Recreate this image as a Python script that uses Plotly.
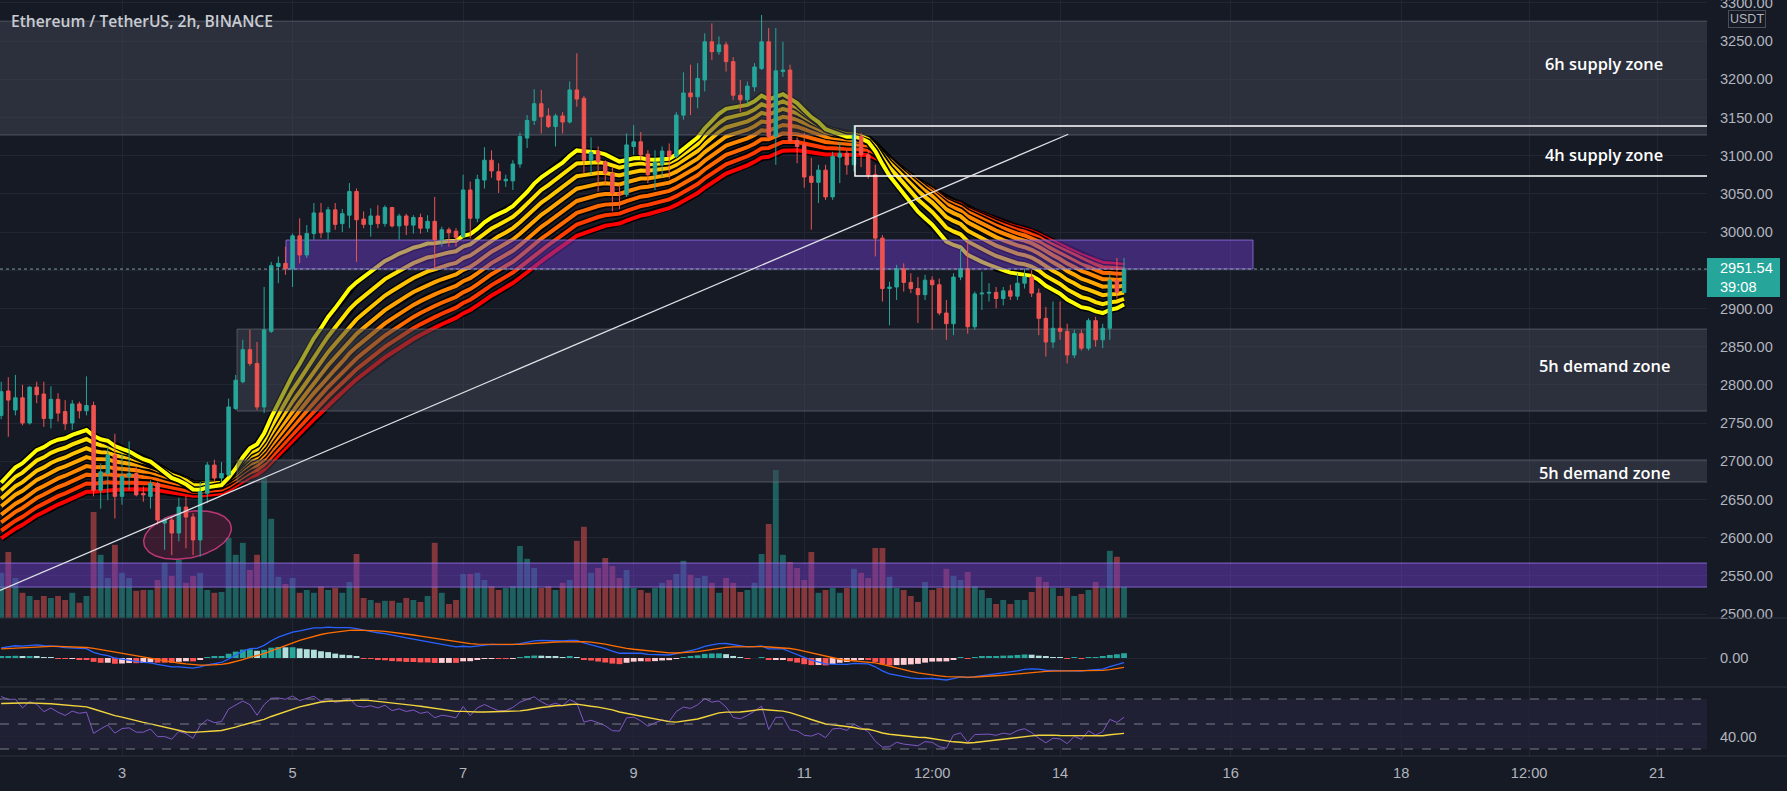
import numpy as np
import plotly.graph_objects as go

# ---------------- data ----------------
start_day = 1 + 14 / 24          # first visible 2h bar: Feb 1, 14:00
bar_step_days = 2 / 24           # 2h candles

opens = [2760,2792,2767,2783,2750,2797,2788,2756,2781,2765,
         2750,2775,2766,2773,2662,2684,2708,2654,2680,2684,
         2658,2654,2671,2619,2623,2606,2640,2627,2597,2658,
         2695,2678,2682,2769,2804,2846,2828,2771,2870,2955,
         2959,2952,2995,2970,2998,3025,3000,3029,3011,3022,
         3053,3017,3010,3021,3011,3032,3008,3021,3009,3019,
         3005,3014,2990,3003,3001,2994,3055,3018,3068,3094,
         3079,3067,3067,3089,3123,3146,3168,3152,3138,3152,
         3144,3186,3175,3094,3106,3092,3077,3051,3049,3112,
         3118,3102,3075,3088,3106,3099,3153,3182,3177,3199,
         3249,3236,3245,3223,3179,3173,3190,3214,3249,3125,
         3210,3212,3120,3114,3073,3065,3081,3046,3098,3103,
         3088,3125,3101,3075,2992,2926,2928,2952,2934,2926,
         2918,2937,2931,2894,2880,2941,2952,2876,2919,2920,
         2921,2913,2923,2916,2933,2941,2920,2887,2856,2874,
         2870,2839,2867,2848,2884,2859,2874,2937,2921]
highs = [2804,2810,2813,2800,2798,2804,2804,2798,2789,2780,
         2780,2778,2811,2778,2697,2719,2736,2710,2726,2693,
         2667,2675,2673,2626,2627,2652,2654,2632,2673,2699,
         2702,2699,2782,2813,2859,2872,2856,2928,2961,2968,
         2981,2998,3018,3009,3038,3038,3033,3038,3030,3064,
         3057,3027,3031,3035,3035,3033,3024,3024,3022,3024,
         3022,3046,3007,3006,3005,3075,3066,3075,3111,3107,
         3090,3075,3094,3130,3153,3187,3186,3162,3155,3157,
         3197,3234,3178,3124,3112,3094,3085,3062,3129,3140,
         3131,3107,3107,3112,3116,3157,3209,3219,3221,3260,
         3273,3256,3249,3229,3199,3197,3221,3284,3267,3267,
         3249,3219,3124,3130,3097,3088,3088,3105,3118,3107,
         3140,3130,3107,3088,2996,2935,2957,2959,2946,2941,
         2944,2942,2939,2911,2946,2979,2987,2922,2948,2933,
         2928,2928,2931,2946,2952,2950,2926,2902,2909,2909,
         2880,2872,2872,2887,2889,2880,2946,2966,2966]
lows = [2755,2732,2760,2747,2748,2776,2745,2743,2752,2741,
        2741,2756,2760,2654,2638,2649,2625,2643,2662,2654,
        2647,2638,2617,2584,2577,2595,2586,2577,2575,2645,
        2673,2673,2680,2767,2802,2825,2767,2763,2868,2933,
        2944,2928,2959,2966,2990,2992,2990,3003,3000,3005,
        2961,3005,2994,3005,3007,3006,2990,2996,2998,2998,
        3000,2952,2981,2981,2981,2992,2992,3013,3057,3071,
        3051,3059,3055,3084,3110,3140,3129,3136,3112,3129,
        3142,3164,3077,3075,3053,3062,3027,3030,3046,3101,
        3094,3064,3055,3072,3070,3097,3147,3153,3162,3184,
        3225,3232,3210,3173,3157,3168,3184,3212,3123,3088,
        3203,3116,3090,3058,3003,3038,3042,3042,3064,3075,
        3079,3085,3070,2968,2909,2878,2911,2922,2920,2881,
        2911,2872,2891,2859,2865,2937,2867,2872,2898,2909,
        2900,2904,2911,2911,2926,2915,2865,2837,2848,2859,
        2828,2835,2845,2845,2850,2848,2859,2913,2931]
closes = [2791,2780,2783,2750,2797,2787,2756,2781,2763,2749,
          2775,2766,2773,2662,2686,2708,2654,2680,2684,2656,
          2656,2671,2623,2623,2606,2640,2627,2597,2660,2695,
          2678,2684,2771,2806,2846,2828,2771,2872,2956,2959,
          2952,2995,2970,2998,3025,2999,3029,3010,3024,3053,
          3016,3010,3021,3011,3032,3008,3021,3009,3019,3005,
          3014,2990,3003,2999,2993,3055,3018,3069,3094,3080,
          3068,3069,3089,3125,3146,3168,3151,3138,3152,3144,
          3186,3174,3094,3104,3092,3077,3051,3049,3114,3118,
          3101,3075,3091,3106,3099,3153,3182,3177,3201,3249,
          3236,3245,3223,3179,3173,3191,3216,3249,3125,3211,
          3212,3120,3112,3072,3065,3081,3046,3099,3103,3088,
          3127,3101,3075,2992,2926,2928,2952,2934,2926,2918,
          2937,2931,2894,2880,2941,2952,2876,2919,2920,2921,
          2913,2923,2916,2933,2941,2920,2887,2856,2874,2870,
          2839,2867,2848,2884,2859,2874,2937,2921,2951.54]
volumes_k = [11.3,16.5,10,6.3,5.5,4.5,5.5,5,5.5,4.5,
             6.3,3.8,5.5,26.5,15.8,10,18.3,11.3,10,6.8,
             7,7,9.5,13.8,10.5,14.5,8.8,10.5,11.3,7,
             6.3,6.5,20,15.8,18.8,12,15.8,35,24.8,10.3,
             8.5,10,6.3,7,6.3,8,7,7.5,6.3,9,
             16,5,4.5,3.8,4.3,4.3,3.8,5,4.5,4,
             5.5,18.8,6.3,3.5,4.5,11,11,11.3,9.5,8,
             7,7.5,8,18,14.8,12.5,7.5,8,7,8.8,
             9.5,19.3,22.8,11.3,12.5,15,13,10,12,7.5,
             7,6.3,7.5,8.8,9.5,11,14.3,10.8,10,10.5,
             8.8,6.3,10,8.8,6.5,7,8.8,16,23.5,37,
             15.8,14,12.5,9.5,16.5,6.3,7,7.5,6.3,7.5,
             12.3,11.3,10,17.5,17.5,10.3,7.5,7,5.5,4,
             9,7,7.5,12.3,10.5,9.5,11.5,8,7,5,
             3.5,4.5,3.5,4.5,4.5,6.5,10.3,9,7.5,5.5,
             7.5,5.5,6,7,9,7.5,16.8,15.3,7.8]

last_price = 2951.54
countdown = "39:08"

# EMA ribbon (lengths, values at the first visible bar, colours)
ribbon_lengths = [20, 25, 30, 35, 40, 45, 50, 55]
ribbon_seed = [2672, 2662, 2651, 2641, 2630, 2620, 2609, 2599]
ribbon_colors = ["#ffff00", "#ffe100", "#ffc400", "#ffa600",
                 "#ff8800", "#ff6a00", "#ff3c00", "#ff0000"]

# MACD(12,26,9) and RSI(14) states at the first visible bar
macd_seed = {"ema_fast": 2712, "ema_slow": 2684, "signal": 25}
rsi_seed = {"avg_gain": 18.0, "avg_loss": 7.0, "ma_prior": 66.0}

price_ticks = list(range(2500, 3301, 50))
x_tickvals = [3, 5, 7, 9, 11, 12.5, 14, 16, 18, 19.5, 21]
x_ticktext = ["3", "5", "7", "9", "11", "12:00", "14", "16", "18", "12:00", "21"]

zones = [  # x in days of Feb, y in USDT
    dict(x0=1.0, x1=23, y0=3127, y1=3276, kind="gray"),      # 6h supply
    dict(x0=4.349, x1=23, y0=2765.7, y1=2873, kind="gray"),  # 5h demand
    dict(x0=4.349, x1=23, y0=2672.8, y1=2701.6, kind="gray"),# 5h demand
    dict(x0=4.923, x1=16.262, y0=2951.6, y1=2989.5, kind="purple"),
    dict(x0=1.0, x1=23, y0=2535.3, y1=2566.7, kind="purple"),
]
zone_labels = [("6h supply zone", 3221), ("4h supply zone", 3102),
               ("5h demand zone", 2825), ("5h demand zone", 2685)]
zone_label_x = 20.38
box_4h = dict(x0=11.595, x1=23, y0=3073.3, y1=3138.8)
trendline = dict(x0=1.5694, y0=2531, x1=14.096, y1=3128)
ellipse = dict(cx=3.768, cy=2603.4, a_px=44.5, b_px=23, angle_deg=-11.7)

# ---------------- indicators ----------------
n = len(closes)
assert all(len(a) == n for a in (opens, highs, lows, volumes_k))
x = [start_day + i * bar_step_days for i in range(n)]
c = np.array(closes, dtype=float)


def ema_series(values, length, seed):
    a = 2.0 / (length + 1)
    out = [seed]
    for v in values[1:]:
        out.append(a * v + (1 - a) * out[-1])
    return np.array(out)


ribbons = [ema_series(c, L, s) for L, s in zip(ribbon_lengths, ribbon_seed)]

ema_f = ema_series(c, 12, macd_seed["ema_fast"])
ema_s = ema_series(c, 26, macd_seed["ema_slow"])
macd = ema_f - ema_s
sig = [macd_seed["signal"]]
for v in macd[1:]:
    sig.append(0.2 * v + 0.8 * sig[-1])
sig = np.array(sig)
hist = macd - sig
hist_colors = []
for i, h in enumerate(hist):
    prev = hist[i - 1] if i > 0 else h
    if h >= 0:
        hist_colors.append("#26a69a" if h >= prev else "#b2dfdb")
    else:
        hist_colors.append("#ffcdd2" if h >= prev else "#ff5252")

ag, al = rsi_seed["avg_gain"], rsi_seed["avg_loss"]
rsi = [100 - 100 / (1 + ag / al)]
for i in range(1, n):
    ch = c[i] - c[i - 1]
    ag = (ag * 13 + max(ch, 0)) / 14
    al = (al * 13 + max(-ch, 0)) / 14
    rsi.append(100 - 100 / (1 + ag / al))
ext = [rsi_seed["ma_prior"]] * 13 + rsi
rsi_ma = [float(np.mean(ext[i:i + 14])) for i in range(n)]

# ---------------- styling ----------------
BG = "#161a25"
GRID = "#222633"
TEAL = "#26a69a"
RED = "#ef5350"
AXIS_FONT = dict(family="Liberation Sans", size=14.6, color="#b2b5be")
W, H = 1787, 791
MR, MB = 80, 35
plot_w, plot_h = W - MR, H - MB
price_dom = [1 - 618 / plot_h, 1]
macd_dom = [1 - 687 / plot_h, 1 - 618 / plot_h]
rsi_dom = [0, 1 - 687 / plot_h]
x_range = [1.5694, 21.586]
price_range = [2494.8, 3303.7]

fig = go.Figure()

# volume (bottom layer)
vol_colors = ["rgba(38,166,154,0.5)" if cl >= op else "rgba(239,83,80,0.5)"
              for op, cl in zip(opens, closes)]
fig.add_trace(go.Bar(x=x, y=volumes_k, yaxis="y2", marker_color=vol_colors,
                     marker_line_width=0, width=bar_step_days * 0.82,
                     hoverinfo="skip"))

# ribbon (slowest first)
for k in range(len(ribbons) - 1, -1, -1):
    fig.add_trace(go.Scatter(x=x, y=ribbons[k], yaxis="y3", mode="lines",
                             line=dict(color="#000000", width=7), hoverinfo="skip"))
    fig.add_trace(go.Scatter(x=x, y=ribbons[k], yaxis="y3", mode="lines",
                             line=dict(color=ribbon_colors[k], width=4), hoverinfo="skip"))

# zones (above ribbon and volume, below candles)
for z in zones:
    if z["kind"] == "gray":
        fill, edge = "rgba(66,70,84,0.5)", "rgba(120,123,134,0.55)"
    else:
        fill, edge = "rgba(106,58,196,0.5)", "rgba(149,117,230,0.8)"
    fig.add_trace(go.Scatter(
        x=[z["x0"], z["x1"], z["x1"], z["x0"], z["x0"]],
        y=[z["y0"], z["y0"], z["y1"], z["y1"], z["y0"]],
        yaxis="y3", mode="lines", fill="toself", fillcolor=fill,
        line=dict(color=edge, width=1), hoverinfo="skip"))

# ellipse marking the lows
px_per_day = plot_w / (x_range[1] - x_range[0])
price_per_px = (price_range[1] - price_range[0]) / 618
t = np.linspace(0, 2 * np.pi, 120)
th = np.radians(ellipse["angle_deg"])
ex = ellipse["a_px"] * np.cos(t) * np.cos(th) - ellipse["b_px"] * np.sin(t) * np.sin(th)
ey = ellipse["a_px"] * np.cos(t) * np.sin(th) + ellipse["b_px"] * np.sin(t) * np.cos(th)
fig.add_trace(go.Scatter(x=ellipse["cx"] + ex / px_per_day,
                         y=ellipse["cy"] - ey * price_per_px,
                         yaxis="y3", mode="lines", fill="toself",
                         fillcolor="rgba(190,30,90,0.22)",
                         line=dict(color="rgba(214,60,130,0.85)", width=1.5),
                         hoverinfo="skip"))

# candles (top layer)
fig.add_trace(go.Candlestick(
    x=x, open=opens, high=highs, low=lows, close=closes, yaxis="y4",
    increasing=dict(line=dict(color=TEAL, width=1), fillcolor=TEAL),
    decreasing=dict(line=dict(color=RED, width=1), fillcolor=RED),
    whiskerwidth=0, hoverinfo="skip"))

# MACD pane
fig.add_trace(go.Bar(x=x, y=hist, yaxis="y5", marker_color=hist_colors,
                     marker_line_width=0, width=bar_step_days * 0.82, hoverinfo="skip"))
fig.add_trace(go.Scatter(x=x, y=macd, yaxis="y5", mode="lines",
                         line=dict(color="#2962ff", width=1.3), hoverinfo="skip"))
fig.add_trace(go.Scatter(x=x, y=sig, yaxis="y5", mode="lines",
                         line=dict(color="#ff6d00", width=1.3), hoverinfo="skip"))
allm = np.concatenate([macd, sig, hist])
kscale = max(allm.max() / 32.0, -allm.min() / 22.0)
macd_range = [-29 * kscale, 40 * kscale]

# RSI pane
fig.add_trace(go.Scatter(x=x, y=rsi, yaxis="y6", mode="lines",
                         line=dict(color="#7e57c2", width=1), hoverinfo="skip"))
fig.add_trace(go.Scatter(x=x, y=rsi_ma, yaxis="y6", mode="lines",
                         line=dict(color="#f2d53c", width=1.4), hoverinfo="skip"))

shapes = []
shapes.append(dict(type="rect", xref="paper", yref="y6", x0=0, x1=1, y0=30, y1=70,
                   fillcolor="rgba(126,87,194,0.10)", line=dict(width=0), layer="below"))
for lv in (70, 50, 30):
    shapes.append(dict(type="line", xref="paper", yref="y6", x0=0, x1=1, y0=lv, y1=lv,
                       line=dict(color="#787b86", width=1, dash="dash")))
shapes.append(dict(type="line", xref="paper", yref="y", x0=0, x1=1,
                   y0=last_price, y1=last_price,
                   line=dict(color="rgba(140,170,170,0.9)", width=1, dash="dot")))
shapes.append(dict(type="rect", xref="x", yref="y", x0=box_4h["x0"], x1=box_4h["x1"],
                   y0=box_4h["y0"], y1=box_4h["y1"], line=dict(color="#ffffff", width=1.5),
                   fillcolor="rgba(0,0,0,0)", layer="above"))
shapes.append(dict(type="line", xref="x", yref="y", x0=trendline["x0"], y0=trendline["y0"],
                   x1=trendline["x1"], y1=trendline["y1"],
                   line=dict(color="#dfe1e6", width=1.3)))
for yy in (price_dom[0], macd_dom[0], 0):
    shapes.append(dict(type="line", xref="paper", yref="paper", x0=0, x1=W / plot_w,
                       y0=yy, y1=yy, line=dict(color="#2e323e", width=1)))
# last price tag
py = price_dom[0] + (last_price - price_range[0]) / (price_range[1] - price_range[0]) * (price_dom[1] - price_dom[0])
shapes.append(dict(type="rect", xref="paper", yref="paper", x0=1.0, x1=1780 / plot_w,
                   y0=py - 28 / plot_h, y1=py + 11 / plot_h, fillcolor=TEAL,
                   line=dict(width=0), layer="above"))

annotations = []
annotations.append(dict(text="Ethereum / TetherUS, 2h, BINANCE", xref="paper", yref="paper",
                        x=0, y=1 - 20.7 / plot_h, xanchor="left", yanchor="middle", xshift=9,
                        showarrow=False,
                        font=dict(family="Open Sans", size=15.6, color="#c9cbd2", weight=600)))
for txt, yv in zone_labels:
    annotations.append(dict(text=txt, xref="x", yref="y", x=zone_label_x, y=yv,
                            xanchor="center", yanchor="middle", showarrow=False,
                            font=dict(family="Open Sans", size=16.4, color="#ffffff", weight=600)))
annotations.append(dict(text="USDT", xref="paper", yref="paper", x=1747 / plot_w,
                        y=1 - 19 / plot_h, xanchor="center", yanchor="middle",
                        showarrow=False, bordercolor="#4a4e5a", borderwidth=1, borderpad=1,
                        bgcolor=BG, font=dict(family="Liberation Sans", size=12.5, color="#b2b5be")))
annotations.append(dict(text=f"{last_price:.2f}<br>{countdown}", xref="paper", yref="paper",
                        x=1.0, y=py - 8.5 / plot_h, xanchor="left", yanchor="middle",
                        xshift=11, align="left", showarrow=False,
                        font=dict(family="Liberation Sans", size=14.6, color="#ffffff")))

fig.update_layout(
    width=W, height=H, margin=dict(l=0, r=MR, t=0, b=MB, pad=0, autoexpand=False),
    paper_bgcolor=BG, plot_bgcolor=BG, showlegend=False, hovermode=False,
    shapes=shapes, annotations=annotations,
    xaxis=dict(domain=[0, 1], range=x_range, anchor="y6", tickmode="array",
               tickvals=x_tickvals, ticktext=x_ticktext, showgrid=True, gridcolor=GRID,
               zeroline=False, showline=False, ticks="", tickfont=AXIS_FONT,
               ticklabelstandoff=6, rangeslider=dict(visible=False), automargin=False),
    yaxis=dict(domain=price_dom, range=price_range, side="right", anchor="x",
               tickmode="array", tickvals=price_ticks, tickformat=".2f",
               showgrid=True, gridcolor=GRID, zeroline=False, ticks="",
               tickfont=AXIS_FONT, ticklabelstandoff=12, automargin=False,
               ticklabeloverflow="allow"),
    yaxis2=dict(overlaying="y", range=[0, 154.5], visible=False, anchor="x"),
    yaxis3=dict(overlaying="y", range=price_range, visible=False, anchor="x"),
    yaxis4=dict(overlaying="y", range=price_range, visible=False, anchor="x"),
    yaxis5=dict(domain=macd_dom, range=macd_range, side="right", anchor="x",
                tickmode="array", tickvals=[0], ticktext=["0.00"], showgrid=True,
                gridcolor=GRID, zeroline=False, ticks="", tickfont=AXIS_FONT,
                ticklabelstandoff=12, automargin=False),
    yaxis6=dict(domain=rsi_dom, range=[24.4, 79.6], side="right", anchor="x",
                tickmode="array", tickvals=[40], ticktext=["40.00"], showgrid=True,
                gridcolor=GRID, zeroline=False, ticks="", tickfont=AXIS_FONT,
                ticklabelstandoff=12, automargin=False),
)

fig.write_html("out.html", config={"displayModeBar": False},
               post_script="document.body.style.margin='0';document.body.style.overflow='hidden';")
